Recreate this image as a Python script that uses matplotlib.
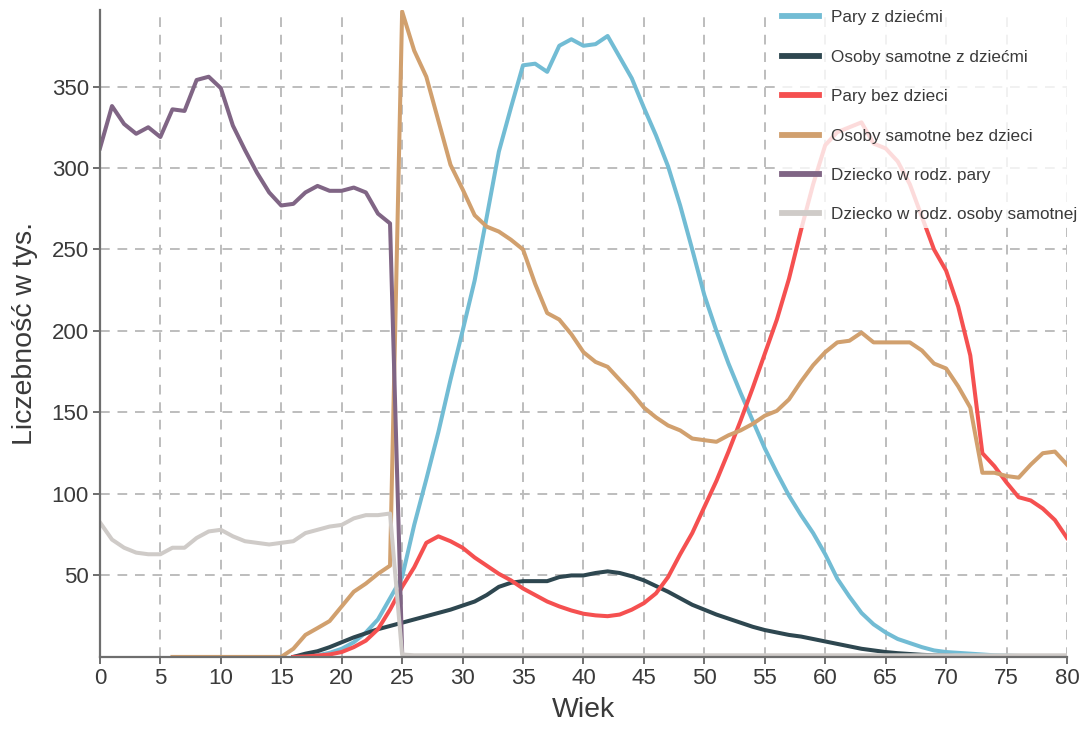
import numpy as np
import matplotlib.pyplot as plt

plt.rcParams['font.family'] = ['Liberation Sans', 'DejaVu Sans']

wiek = np.arange(0, 81)
nan = np.nan

pary_z_dziecmi = [nan] * 16 + [
    0, 0.5, 1, 2.5, 5, 9, 15, 23, 36, 49,
    81, 109, 138, 170, 200, 231, 270, 310, 337, 363,
    364, 359, 375, 379, 375, 376, 381, 368, 355, 337,
    320, 301, 277, 250, 222, 200, 180, 162, 145, 128,
    113, 99, 87, 76, 63, 48, 37, 27, 20, 15,
    11, 8.5, 6, 4, 3, 2.5, 2, 1.5, 1, 0.8,
    0.6, 0.5, 0.4, 0.3, 0.3]

samotne_z_dziecmi = [nan] * 16 + [
    0, 2, 3.5, 6, 9, 12, 14.5, 17, 19, 21,
    23, 25, 27, 29, 31.5, 34, 38, 43, 45.5, 46.5,
    46.5, 46.5, 49, 50, 50, 51.5, 52.5, 51.5, 49.5, 47,
    43.5, 40, 36, 32, 29, 26, 23.5, 21, 18.5, 16.5,
    15, 13.5, 12.5, 11, 9.5, 8, 6.5, 5, 4, 3,
    2.3, 1.8, 1.3, 1, 0.8, 0.5, 0.5, 0.5, 0.5, 0.5,
    0.5, 0.5, 0.5, 0.5, 0.5]

pary_bez_dzieci = [nan] * 16 + [
    0, 0.3, 0.8, 1.5, 3, 6, 10, 17, 29, 43,
    55, 70, 74, 71, 67, 61, 56, 51, 47, 42,
    38, 34, 31, 28.5, 26.5, 25.5, 25, 26, 29, 33,
    39, 49, 63, 76, 92, 108, 126, 145, 165, 186,
    207, 232, 262, 290, 314, 322, 325, 328, 315, 312,
    304, 290, 270, 250, 237, 215, 185, 125, 117, 107,
    98, 96, 91, 84, 73]

samotne_bez_dzieci = [nan] * 6 + [0] * 10 + [
    5, 13.5, 17.7, 22, 31, 40, 45, 51, 56, 396,
    372, 356, 329, 302, 287, 271, 264, 261, 256, 250,
    229, 211, 207, 198, 187, 181, 178, 170, 162, 153,
    147, 142, 139, 134, 133, 132, 136, 139, 143, 148,
    151, 158, 169, 179, 187, 193, 194, 199, 193, 193,
    193, 193, 188, 180, 177, 166, 153, 113, 113, 111,
    110, 118, 125, 126, 118]

dziecko_pary = [
    312, 338, 327, 321, 325, 319, 336, 335, 354, 356,
    349, 326, 311, 297, 285, 277, 278, 285, 289, 286,
    286, 288, 285, 272, 266, 3] + [nan] * 55

dziecko_samotnej = [
    82.6, 72, 67, 64, 63, 63, 67, 67, 73, 77,
    78, 74, 71, 70, 69, 70, 71, 76, 78, 80,
    81, 85, 87, 87, 88, 1.5] + [1] * 55

series = [
    ('Pary z dziećmi', pary_z_dziecmi, '#72bcd4'),
    ('Osoby samotne z dziećmi', samotne_z_dziecmi, '#2e4750'),
    ('Pary bez dzieci', pary_bez_dzieci, '#f55050'),
    ('Osoby samotne bez dzieci', samotne_bez_dzieci, '#d1a06e'),
    ('Dziecko w rodz. pary', dziecko_pary, '#806585'),
    ('Dziecko w rodz. osoby samotnej', dziecko_samotnej, '#cfcbc8'),
]

fig = plt.figure(figsize=(10.86, 7.34), dpi=100)
ax = fig.add_axes([0.092, 0.105, 0.8905, 0.8815])

for label, vals, color in series:
    ax.plot(wiek, vals, color=color, lw=2.9, label=label)

ax.set_xlim(0, 80)
ax.set_ylim(0, 397)
ax.set_xticks(range(0, 81, 5))
ax.set_yticks(range(50, 351, 50))
ax.grid(True, color='#bdbdbd', linestyle=(0, (5, 4)), lw=1.4)
ax.set_axisbelow(True)

for s in ['top', 'right']:
    ax.spines[s].set_visible(False)
for s in ['left', 'bottom']:
    ax.spines[s].set_color('#6e6e6e')
    ax.spines[s].set_linewidth(1.6)
ax.tick_params(colors='#6e6e6e', labelcolor='#3a3a3a', labelsize=16, length=5, width=1.4, pad=3)

ax.set_xlabel('Wiek', fontsize=20.5, color='#3a3a3a', labelpad=6)
ax.set_ylabel('Liczebność w tys.', fontsize=20.5, color='#3a3a3a', labelpad=10)

leg = ax.legend(loc='upper right', bbox_to_anchor=(0.997, 0.993), bbox_transform=fig.transFigure,
                fontsize=12.3, frameon=True, framealpha=0.8, edgecolor='none',
                handlelength=2.15, handletextpad=0.75, labelspacing=1.43, borderpad=0.3,
                borderaxespad=0.0)
for line in leg.get_lines():
    line.set_linewidth(4.2)
for t in leg.get_texts():
    t.set_color('#3a3a3a')

fig.savefig('out.png', dpi=100)
